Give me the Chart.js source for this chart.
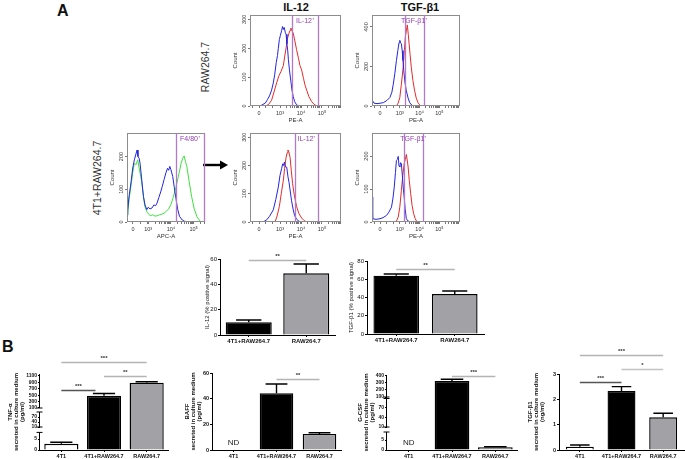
<!DOCTYPE html>
<html>
<head>
<meta charset="utf-8">
<script src="https://cdn.jsdelivr.net/npm/chart.js@4.4.1/dist/chart.umd.min.js"></script>
<style>
body { margin:0; background:#fff; width:685px; height:459px; position:relative; overflow:hidden; font-family:"Liberation Sans", Arial, sans-serif; }
canvas { position:absolute; }
.t { position:absolute; white-space:nowrap; color:#111; }
.rot { transform:translate(-50%,-50%) rotate(-90deg); }
</style>
</head>
<body>
<div class="t" style="left:57px;top:2px;font-weight:bold;font-size:16px">A</div>
<div class="t" style="left:2px;top:338px;font-weight:bold;font-size:16px">B</div>
<div class="t" style="left:296px;top:7px;transform:translate(-50%,-50%);font-weight:bold;font-size:11px">IL-12</div>
<div class="t" style="left:420px;top:7px;transform:translate(-50%,-50%);font-weight:bold;font-size:11px">TGF-β1</div>
<div class="t rot" style="left:205px;top:67px;font-size:10.5px;color:#333">RAW264.7</div>
<div class="t rot" style="left:97px;top:178px;font-size:10.5px;color:#333">4T1+RAW264.7</div>
<svg style="position:absolute;left:203px;top:159px" width="26" height="12"><line x1="0" y1="6" x2="19" y2="6" stroke="#000" stroke-width="2.4"/><polygon points="17,1.5 25,6 17,10.5" fill="#000"/></svg>

<script>
// ---------- Panel A histograms: x = log channel (2 = "0", 3 = 10^3, 4 = 10^4, 5 = 10^5), y = count
var il12RawBlue = [[1.8,0],[2.1,2],[2.3,10],[2.4,22],[2.5,35],[2.6,55],[2.68,80],[2.75,110],[2.82,150],[2.88,175],[2.92,200],[2.97,230],[3.02,245],[3.08,262],[3.12,275],[3.16,265],[3.2,272],[3.25,255],[3.29,248],[3.33,215],[3.37,190],[3.4,160],[3.45,125],[3.51,90],[3.57,55],[3.63,33],[3.7,15],[3.79,4],[3.9,0]];
var il12RawRed = [[2.3,0],[2.45,5],[2.6,20],[2.7,45],[2.84,80],[2.95,105],[3.05,120],[3.16,140],[3.22,170],[3.3,205],[3.35,232],[3.42,250],[3.48,262],[3.52,270],[3.56,262],[3.63,252],[3.7,228],[3.79,195],[3.88,165],[3.95,140],[4.03,125],[4.12,95],[4.2,70],[4.27,55],[4.38,32],[4.51,15],[4.62,6],[4.75,0]];
var tgfRawBlue = [[1.6,30],[1.7,14],[1.9,12],[2.05,15],[2.17,17],[2.35,28],[2.5,43],[2.6,70],[2.67,110],[2.75,165],[2.83,230],[2.9,280],[2.96,320],[3.0,332],[3.04,318],[3.08,315],[3.12,280],[3.16,230],[3.2,180],[3.26,120],[3.33,77],[3.42,40],[3.5,17],[3.6,5],[3.67,0]];
var tgfRawRed = [[2.83,0],[2.92,15],[3.0,43],[3.08,110],[3.17,196],[3.23,280],[3.28,350],[3.33,380],[3.38,410],[3.43,360],[3.47,315],[3.52,260],[3.58,196],[3.66,130],[3.75,77],[3.83,40],[3.92,17],[4.0,6],[4.08,0]];
var f480Blue = [[2.07,22],[2.1,38],[2.16,80],[2.24,119],[2.32,165],[2.39,190],[2.45,205],[2.51,220],[2.55,200],[2.6,195],[2.64,180],[2.7,140],[2.79,78],[2.86,52],[2.94,38],[3.0,45],[3.08,40],[3.17,43],[3.25,52],[3.33,50],[3.39,58],[3.47,75],[3.55,92],[3.62,109],[3.7,130],[3.78,150],[3.85,164],[3.9,158],[3.95,170],[4.0,160],[4.08,139],[4.15,105],[4.23,68],[4.3,38],[4.38,17],[4.5,6],[4.61,2],[4.8,0]];
var f480Green = [[2.07,20],[2.1,27],[2.16,70],[2.24,109],[2.32,150],[2.39,180],[2.46,175],[2.54,190],[2.6,165],[2.7,129],[2.78,85],[2.85,48],[2.95,30],[3.09,19],[3.2,22],[3.3,18],[3.39,19],[3.5,22],[3.6,24],[3.7,27],[3.8,33],[3.9,40],[4.0,53],[4.1,75],[4.23,109],[4.33,140],[4.45,180],[4.52,195],[4.58,202],[4.64,185],[4.7,170],[4.8,125],[4.91,78],[5.02,42],[5.14,17],[5.29,2],[5.4,0]];
var il12CoBlue = [[2.2,0],[2.37,8],[2.5,20],[2.68,43],[2.8,80],[2.92,124],[3.0,165],[3.08,190],[3.13,206],[3.17,200],[3.21,212],[3.26,195],[3.32,194],[3.38,160],[3.43,140],[3.48,113],[3.55,75],[3.63,43],[3.7,22],[3.79,10],[3.9,3],[4.0,0]];
var il12CoRed = [[2.76,0],[2.85,18],[2.97,55],[3.06,100],[3.16,148],[3.22,190],[3.29,229],[3.34,245],[3.38,255],[3.42,248],[3.48,229],[3.54,180],[3.6,136],[3.68,95],[3.79,55],[3.9,30],[4.03,14],[4.15,5],[4.27,0]];
var tgfCoBlue = [[1.6,76],[1.63,10],[1.8,8],[2.0,10],[2.15,13],[2.33,20],[2.45,30],[2.58,45],[2.65,70],[2.72,106],[2.78,150],[2.83,187],[2.88,190],[2.92,199],[2.96,170],[3.0,167],[3.04,180],[3.08,177],[3.13,140],[3.18,100],[3.22,76],[3.27,40],[3.33,10],[3.42,3],[3.5,0]];
var tgfCoRed = [[2.75,0],[2.85,5],[2.92,15],[3.0,45],[3.08,96],[3.15,140],[3.22,177],[3.28,190],[3.33,205],[3.38,185],[3.42,167],[3.48,125],[3.55,86],[3.62,50],[3.7,25],[3.78,10],[3.87,0]];

// ---------- Panel A bars (% positive signal)
var aCats = ['4T1+RAW264.7', 'RAW264.7'];
var il12Pos = [10.0, 48.7];
var il12PosErr = [1.8, 7.3];
var tgfPos = [63.9, 43.8];
var tgfPosErr = [1.8, 3.3];

// ---------- Panel B bars (secreted in culture medium)
var bCats = ['4T1', '4T1+RAW264.7', 'RAW264.7'];
var tnfMean = [2.8, 480, 890];
var tnfErr = [0.7, 75, 30];
var baffMean = [null, 44.2, 12.5];
var baffErr = [0, 7.2, 1.0];
var gcsfMean = [null, 329, 1.35];
var gcsfErr = [0, 24, 0.3];
var tgfSecMean = [0.13, 2.33, 1.29];
var tgfSecErr = [0.07, 0.17, 0.16];

var tnfTicks = [0, 5, 10, 40, 70, 100, 300, 500, 700, 900, 1100];
var gcsfTicks = [0, 5, 10, 40, 70, 100, 200, 300, 400];

Chart.defaults.font.family = '"Liberation Sans", Arial, sans-serif';
Chart.defaults.color = '#222';

function addCanvas(area, m) {
  var c = document.createElement('canvas');
  c.width = area.r - area.l + m.l + m.r;
  c.height = area.b - area.t + m.t + m.b;
  c.style.left = (area.l - m.l) + 'px';
  c.style.top = (area.t - m.t) + 'px';
  document.body.appendChild(c);
  return c;
}

function histPlugin(o) {
  return {
    id: 'histExtras',
    afterDraw: function(chart) {
      var ctx = chart.ctx, a = chart.chartArea, xs = chart.scales.x, ys = chart.scales.y;
      ctx.save();
      ctx.strokeStyle = '#8c8c8c';
      ctx.lineWidth = 1;
      ctx.strokeRect(a.left + 0.5, a.top + 0.5, a.right - a.left - 1, a.bottom - a.top - 1);
      ctx.fillStyle = '#333';
      ctx.font = '5.5px "Liberation Sans"';
      ctx.textAlign = 'center';
      ctx.textBaseline = 'bottom';
      o.yTicks.forEach(function(v) {
        ctx.save();
        ctx.translate(a.left - 3, ys.getPixelForValue(v));
        ctx.rotate(-Math.PI / 2);
        ctx.fillText(String(v), 0, 0);
        ctx.restore();
      });
      ctx.strokeStyle = '#b07ac8';
      ctx.lineWidth = 1.3;
      o.gate.forEach(function(g) {
        var x = Math.round(xs.getPixelForValue(g)) + 0.5;
        ctx.beginPath(); ctx.moveTo(x, a.top); ctx.lineTo(x, a.bottom); ctx.stroke();
      });
      ctx.fillStyle = '#9440b4';
      ctx.font = '7px "Liberation Sans"';
      ctx.textBaseline = 'top';
      ctx.fillText(o.gateLabel, (xs.getPixelForValue(o.gate[0]) + xs.getPixelForValue(o.gate[1])) / 2, a.top + 3);
      ctx.restore();
    }
  };
}

function histChart(o) {
  var m = {l: 18, t: 3, r: 3, b: 18};
  var cv = addCanvas(o.area, m);
  var majors = [[o.zero, '0'], [3, '10\u00b3'], [4, '10\u2074'], [5, '10\u2075']];
  new Chart(cv, {
    type: 'line',
    data: {
      datasets: o.curves.map(function(c) {
        return {
          data: c[0].map(function(p) { return {x: p[0], y: p[1]}; }),
          borderColor: c[1], borderWidth: 1, pointRadius: 0, tension: 0, fill: false
        };
      })
    },
    options: {
      responsive: false, animation: false,
      layout: {autoPadding: false, padding: {left: 0, top: m.t, right: m.r, bottom: 0}},
      plugins: {legend: {display: false}, tooltip: {enabled: false}},
      scales: {
        x: {
          type: 'linear', min: o.xmin, max: o.xmax,
          afterFit: function(s) { s.height = m.b; },
          afterBuildTicks: function(s) {
            var t = majors.map(function(p) { return p[0]; });
            t.push(o.zero - 0.3, o.zero + 0.33, o.zero + 0.66);
            for (var d = 3; d <= 5; d++) for (var k = 2; k <= 9; k++) t.push(d + Math.log10(k));
            t = t.filter(function(v) { return v >= o.xmin && v <= o.xmax; }).sort(function(p, q) { return p - q; });
            s.ticks = t.map(function(v) { return {value: v}; });
          },
          ticks: {
            font: {size: 5.5}, color: '#333', padding: 2, maxRotation: 0, autoSkip: false,
            callback: function(v) {
              for (var i = 0; i < majors.length; i++) if (Math.abs(majors[i][0] - v) < 1e-6) return majors[i][1];
              return '';
            }
          },
          grid: {drawOnChartArea: false, tickLength: 2, color: '#777'},
          border: {display: false},
          title: {display: true, text: o.xTitle, font: {size: 6}, color: '#333', padding: 0}
        },
        y: {
          min: 0, max: o.ymax,
          afterFit: function(s) { s.width = m.l; },
          afterBuildTicks: function(s) { s.ticks = o.yTicks.map(function(v) { return {value: v}; }); },
          ticks: {display: false},
          grid: {drawOnChartArea: false, tickLength: 2, color: '#777'},
          border: {display: false},
          title: {display: true, text: 'Count', font: {size: 6}, color: '#333', padding: 0}
        }
      }
    },
    plugins: [histPlugin(o)]
  });
}

function makeFwd(pieces) {
  if (!pieces) return function(v) { return v; };
  return function(v) {
    var p = pieces[0];
    for (var i = 0; i < pieces.length; i++) if (v >= pieces[i].lo) p = pieces[i];
    return p.d0 + (v - p.lo) * (p.d1 - p.d0) / (p.hi - p.lo);
  };
}

function barPlugin(o, fwd) {
  return {
    id: 'barExtras',
    afterDatasetsDraw: function(chart) {
      var ctx = chart.ctx, a = chart.chartArea, xs = chart.scales.x, ys = chart.scales.y;
      var meta = chart.getDatasetMeta(0);
      ctx.save();
      ctx.strokeStyle = '#000';
      ctx.lineWidth = 1.4;
      o.means.forEach(function(v, i) {
        if (v == null) return;
        var el = meta.data[i];
        var top = ys.getPixelForValue(fwd(v + o.errs[i]));
        var hw = el.width * o.capPct / 2;
        ctx.beginPath();
        ctx.moveTo(el.x, el.y); ctx.lineTo(el.x, top);
        ctx.moveTo(el.x - hw, top); ctx.lineTo(el.x + hw, top);
        ctx.stroke();
      });
      if (o.pieces) {
        var x = Math.round(a.left) - 0.5;
        ctx.lineWidth = 1;
        o.pieces.forEach(function(p, k) {
          var y0 = ys.getPixelForValue(k === 0 ? 0 : p.d0), y1 = ys.getPixelForValue(p.d1);
          ctx.beginPath(); ctx.moveTo(x, y0); ctx.lineTo(x, y1); ctx.stroke();
          ctx.beginPath();
          if (k > 0) { ctx.moveTo(x - 3, y0); ctx.lineTo(x + 3, y0); }
          if (k < o.pieces.length - 1) { ctx.moveTo(x - 3, y1); ctx.lineTo(x + 3, y1); }
          ctx.stroke();
        });
      }
      ctx.textAlign = 'center';
      ctx.textBaseline = 'bottom';
      o.sig.forEach(function(s) {
        var y = Math.round(ys.getPixelForValue(fwd(s[2]))) + 0.5;
        var x0 = xs.getPixelForValue(s[0]), x1 = xs.getPixelForValue(s[1]);
        ctx.strokeStyle = s[4];
        ctx.lineWidth = 1.5;
        ctx.beginPath(); ctx.moveTo(x0, y); ctx.lineTo(x1, y); ctx.stroke();
        ctx.fillStyle = '#333';
        ctx.font = 'bold 6px "Liberation Sans"';
        ctx.fillText(s[3], (x0 + x1) / 2, y - 1.5);
      });
      if (o.nd != null) {
        ctx.fillStyle = '#222';
        ctx.font = '8px "Liberation Sans"';
        ctx.fillText('ND', xs.getPixelForValue(o.nd), a.bottom - 3);
      }
      ctx.restore();
    }
  };
}

function barChart(o) {
  var fwd = makeFwd(o.pieces);
  var cv = addCanvas(o.area, o.m);
  new Chart(cv, {
    type: 'bar',
    data: {
      labels: o.cats,
      datasets: [{
        data: o.means.map(function(v) { return v == null ? null : fwd(v); }),
        backgroundColor: o.colors, borderColor: '#000', borderWidth: 1.4,
        barPercentage: o.barPct, categoryPercentage: 1
      }]
    },
    options: {
      responsive: false, animation: false,
      layout: {autoPadding: false, padding: {left: 0, top: o.m.t, right: o.m.r, bottom: 0}},
      plugins: {legend: {display: false}, tooltip: {enabled: false}},
      scales: {
        x: {
          afterFit: function(s) { s.height = o.m.b; },
          grid: {display: true, drawOnChartArea: false, offset: false, tickLength: 2, color: '#000'},
          border: {color: '#000', width: 1},
          ticks: {font: {size: o.xFont, weight: 'bold'}, color: '#111', padding: 1, maxRotation: 0, autoSkip: false}
        },
        y: {
          min: 0, max: o.ymax,
          afterFit: function(s) { s.width = o.m.l; },
          afterBuildTicks: function(s) { s.ticks = o.yTicks.map(function(v) { return {value: fwd(v)}; }); },
          ticks: {
            font: {size: o.yFont, weight: o.bold ? 'bold' : 'normal'}, color: '#111', padding: 1, autoSkip: false,
            callback: function(v, i) { return String(o.yTicks[i]); }
          },
          grid: {drawOnChartArea: false, tickLength: 2, color: '#000'},
          border: {display: !o.pieces, color: '#000', width: 1},
          title: {
            display: true, text: o.yTitle, color: '#111',
            font: {size: 6, weight: o.bold ? 'bold' : 'normal', lineHeight: 1},
            padding: {top: o.titlePad, bottom: 0}
          }
        }
      }
    },
    plugins: [barPlugin(o, fwd)]
  });
}

// ---------- histograms
histChart({area: {l: 250, r: 341, t: 15, b: 106}, xmin: 1.571, xmax: 5.905, zero: 2, ymax: 315, yTicks: [0, 100, 200, 300],
  gate: [3.57, 4.81], gateLabel: 'IL-12\u207a', xTitle: 'PE-A', curves: [[il12RawBlue, '#2424e0'], [il12RawRed, '#e42a2a']]});
histChart({area: {l: 372, r: 460, t: 15, b: 106}, xmin: 1.596, xmax: 6.04, zero: 2, ymax: 460, yTicks: [0, 200, 400],
  gate: [3.25, 4.2], gateLabel: 'TGF-\u03b21\u207a', xTitle: 'PE-A', curves: [[tgfRawBlue, '#2424e0'], [tgfRawRed, '#e42a2a']]});
histChart({area: {l: 127, r: 205, t: 133, b: 222}, xmin: 2.067, xmax: 5.5, zero: 2.33, ymax: 272, yTicks: [0, 100, 200],
  gate: [4.23, 5.45], gateLabel: 'F4/80\u207a', xTitle: 'APC-A', curves: [[f480Blue, '#2424e0'], [f480Green, '#3ee03e']]});
histChart({area: {l: 250, r: 341, t: 133, b: 222}, xmin: 1.571, xmax: 5.905, zero: 2, ymax: 315, yTicks: [0, 100, 200, 300],
  gate: [3.71, 4.81], gateLabel: 'IL-12\u207a', xTitle: 'PE-A', curves: [[il12CoBlue, '#2424e0'], [il12CoRed, '#e42a2a']]});
histChart({area: {l: 372, r: 460, t: 133, b: 222}, xmin: 1.596, xmax: 6.04, zero: 2, ymax: 270, yTicks: [0, 100, 200],
  gate: [3.2, 4.17], gateLabel: 'TGF-\u03b21\u207a', xTitle: 'PE-A', curves: [[tgfCoBlue, '#2424e0'], [tgfCoRed, '#e42a2a']]});

// ---------- panel A bar charts
barChart({area: {l: 220, r: 335, t: 259, b: 335}, m: {l: 20, t: 12, r: 3, b: 10}, cats: aCats,
  means: il12Pos, errs: il12PosErr, colors: ['#000', '#a2a2a6'], barPct: 0.8, capPct: 0.55,
  ymax: 60, yTicks: [0, 20, 40, 60], yTitle: 'IL-12 (% positive signal)', titlePad: 4, xFont: 6, yFont: 6,
  sig: [[0, 1, 59, '**', '#b4b4b4']]});
barChart({area: {l: 367, r: 484, t: 261, b: 334}, m: {l: 22, t: 12, r: 3, b: 11}, cats: aCats,
  means: tgfPos, errs: tgfPosErr, colors: ['#000', '#a2a2a6'], barPct: 0.78, capPct: 0.55,
  ymax: 80, yTicks: [0, 20, 40, 60, 80], yTitle: 'TGF-\u03b21 (% positive signal)', titlePad: 3, xFont: 6, yFont: 6,
  sig: [[0, 1, 71, '**', '#b4b4b4']]});

// ---------- panel B bar charts
var bColors = ['#fff', '#000', '#a2a2a6'];
barChart({area: {l: 40, r: 168, t: 374, b: 450}, m: {l: 40, t: 20, r: 4, b: 9}, cats: bCats, bold: true,
  means: tnfMean, errs: tnfErr, colors: bColors, barPct: 0.8, capPct: 0.65,
  pieces: [{lo: 0, hi: 8, d0: 0, d1: 17.6}, {lo: 10, hi: 100, d0: 23, d1: 38}, {lo: 100, hi: 1162.5, d0: 42, d1: 76}],
  ymax: 76, yTicks: tnfTicks, yTitle: ['TNF-\u03b1', 'secreted in culture medium', '(pg/ml)'], titlePad: 7, xFont: 5.5, yFont: 5,
  sig: [[0, 2, 1540, '***', '#b4b4b4'], [1, 2, 1100, '**', '#b4b4b4'], [0, 0.8, 660, '***', '#555']]});
barChart({area: {l: 212, r: 341, t: 373, b: 450}, m: {l: 30, t: 12, r: 4, b: 9}, cats: bCats, bold: true,
  means: baffMean, errs: baffErr, colors: bColors, barPct: 0.78, capPct: 0.65, nd: 0,
  ymax: 60, yTicks: [0, 20, 40, 60], yTitle: ['BAFF', 'secreted in culture medium', '(pg/ml)'], titlePad: 2, xFont: 5.5, yFont: 5.5,
  sig: [[1, 2, 55, '**', '#b4b4b4']]});
barChart({area: {l: 387, r: 517, t: 375, b: 450}, m: {l: 30, t: 12, r: 4, b: 9}, cats: bCats, bold: true,
  means: gcsfMean, errs: gcsfErr, colors: bColors, barPct: 0.8, capPct: 0.65, nd: 0,
  pieces: [{lo: 0, hi: 9, d0: 0, d1: 18}, {lo: 10, hi: 100, d0: 23, d1: 51.5}, {lo: 100, hi: 414, d0: 53, d1: 75}],
  ymax: 75, yTicks: gcsfTicks, yTitle: ['G-CSF', 'secreted in culture medium', '(pg/ml)'], titlePad: 0, xFont: 5.5, yFont: 5,
  sig: [[1, 2, 400, '***', '#b4b4b4']]});
barChart({area: {l: 559, r: 684, t: 374, b: 450}, m: {l: 32, t: 28, r: 1, b: 9}, cats: bCats, bold: true,
  means: tgfSecMean, errs: tgfSecErr, colors: bColors, barPct: 0.67, capPct: 0.7,
  ymax: 3, yTicks: [0, 1, 2, 3], yTitle: ['TGF-\u03b21', 'secreted in culture medium', '(ng/ml)'], titlePad: 0, xFont: 5.5, yFont: 5.5,
  sig: [[0, 2, 3.75, '***', '#b4b4b4'], [1, 2, 3.2, '*', '#c4c4c4'], [0, 1, 2.69, '***', '#555']]});
</script>
</body>
</html>
